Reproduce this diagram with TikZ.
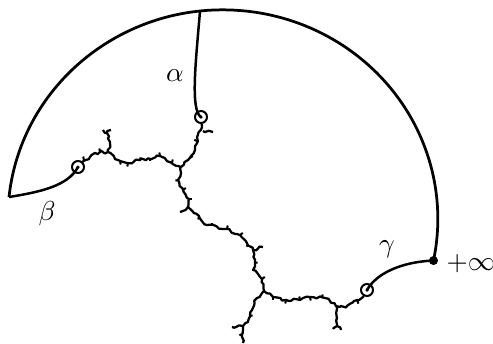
\documentclass[tikz,border=0pt]{standalone}
\usetikzlibrary{decorations.pathmorphing}
\tikzset{
  rim/.style={line width=1.1pt},
  arm/.style={line width=1pt},
  crack/.style={line width=0.9pt, line join=round, decorate,
    decoration={random steps, segment length=1.2pt, amplitude=0.6pt}},
  hole/.style={circle, draw, line width=0.8pt, minimum size=4.8pt, inner sep=0pt},
  tag/.style={font=\fontsize{11}{13}\selectfont},
}
\begin{document}
\begin{tikzpicture}[x=0.4pt,y=-0.4pt]
\pgfmathsetseed{7}
\useasboundingbox (0,0) rectangle (493,343);
% outer boundary
\coordinate (bl) at (9,197);
\coordinate (top) at (200,11);
\draw[rim] (bl) arc[start angle=174, end angle=-11.5, x radius=86pt, y radius=83.6pt] coordinate (inf);
\node[circle, fill, inner sep=0pt, minimum size=3.6pt] (infdot) at (inf) {};
% the three seeds
\node[hole] (a) at (201,117) {};
\node[hole] (b) at (78,167) {};
\node[hole] (c) at (367,290) {};
\fill (a.center) circle (0.7pt) (b.center) circle (0.7pt) (c.center) circle (0.7pt);
% curves from the boundary
\draw[arm] (top) .. controls (196,60) and (190,110) .. (a.center);
\draw[arm] (bl) .. controls (40,192) and (68,186) .. (b.center);
\draw[arm] (infdot.center) .. controls (400,262) and (376,274) .. (c.center);
\node[tag] (alab) at (175,76) {$\alpha$};
\node[tag] (blab) at (47,214) {$\beta$};
\node[tag] (clab) at (387,249) {$\gamma$};
\node[tag, anchor=west, inner sep=0pt] (inflab) at (446,264) {$+\infty$};
% the tree
\coordinate (fork1) at (181,167);
\coordinate (fork2) at (264,291);
\draw[crack] (a) -- (202,127) -- (197,137) -- (195,150) -- (188,160) -- (fork1);
\draw[crack] (fork1) -- (160,156) -- (140,160) -- (127,163) -- (118,160) -- (108,152)
  -- (100,152) -- (90,157) -- (82,162) -- (b);
\draw[crack] (fork1) -- (178,180) -- (183,190) -- (189,199) -- (188,207) -- (199,216)
  -- (207,225) -- (227,229) -- (240,235) -- (247,243) -- (253,250) -- (255,263)
  -- (253,270) -- (262,279) -- (fork2);
\draw[crack] (fork2) -- (273,297) -- (286,300) -- (300,300) -- (310,297) -- (325,298)
  -- (336,306) -- (347,306) -- (357,300) -- (363,297) -- (c);
\draw[crack] (fork2) -- (257,298) -- (252,310) -- (249,318) -- (243,326) -- (242,334) -- (243,343);
% side branches
\draw[crack] (108,152) -- (110,142) -- (107,133) -- (103,130) (107,133) -- (111,130);
\draw[crack] (336,306) -- (337,318) -- (337,326) -- (333,329) (337,326) -- (341,330);
\draw[crack] (203,131) -- (213,132);
\draw[crack] (188,207) -- (180,212);
\draw[crack] (253,250) -- (263,247);
\draw[crack] (243,326) -- (232,327);
\foreach \xa/\ya/\xb/\yb in {84/161/83/155, 100/152/99/147, 120/161/121/166, 128/163/127/168,
    160/156/159/151, 172/163/173/158, 197/141/193/139, 190/158/194/155,
    183/190/187/187, 199/216/198/221, 212/226/212/221, 227/229/228/224,
    240/235/244/232, 262/279/266/276, 286/300/285/305, 300/300/299/295,
    310/297/311/302, 322/298/323/293, 357/300/359/305, 250/316/254/315,
    242/334/238/336, 249/245/245/247, 255/263/259/262, 140/160/141/156,
    150/158/150/162, 178/180/174/181, 189/199/193/199, 273/297/273/301}
  \draw[line width=0.8pt, shorten >=0.6pt] (\xa,\ya) -- (\xb,\yb);
\end{tikzpicture}
\end{document}
